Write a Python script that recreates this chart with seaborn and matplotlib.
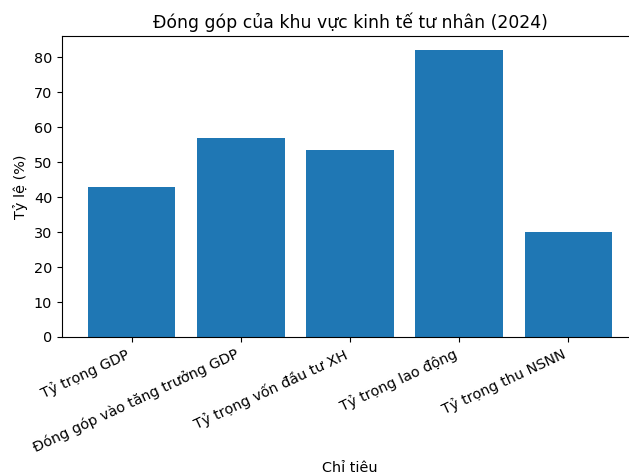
import pandas as pd
import matplotlib.pyplot as plt
import seaborn as sns

# data
categories = [
    "Tỷ trọng GDP",
    "Đóng góp vào tăng trưởng GDP",
    "Tỷ trọng vốn đầu tư XH",
    "Tỷ trọng lao động",
    "Tỷ trọng thu NSNN",
]
values = [43.0, 57.0, 53.5, 82.0, 30.0]

df = pd.DataFrame({"Chỉ tiêu": categories, "Tỷ lệ (%)": values})

fig, ax = plt.subplots(figsize=(6.29, 4.75), dpi=100)
fig.subplots_adjust(left=62 / 629, right=638 / 629, top=1 - 36 / 475, bottom=1 - 337 / 475)

sns.barplot(
    data=df,
    x="Chỉ tiêu",
    y="Tỷ lệ (%)",
    color="#1f77b4",
    saturation=1,
    width=0.8,
    ax=ax,
)

ax.set_xlim(-0.64, len(categories) - 1 + 0.64)
ax.set_ylim(0, max(values) * 1.05)
ax.set_title("Đóng góp của khu vực kinh tế tư nhân (2024)", fontsize=12.4)
ax.set_xlabel("Chỉ tiêu", fontsize=10.35)
ax.set_ylabel("Tỷ lệ (%)", fontsize=10.35)
ax.tick_params(labelsize=10.35)
plt.setp(ax.get_xticklabels(), rotation=25, ha="right")

plt.savefig("out.png", dpi=100)
